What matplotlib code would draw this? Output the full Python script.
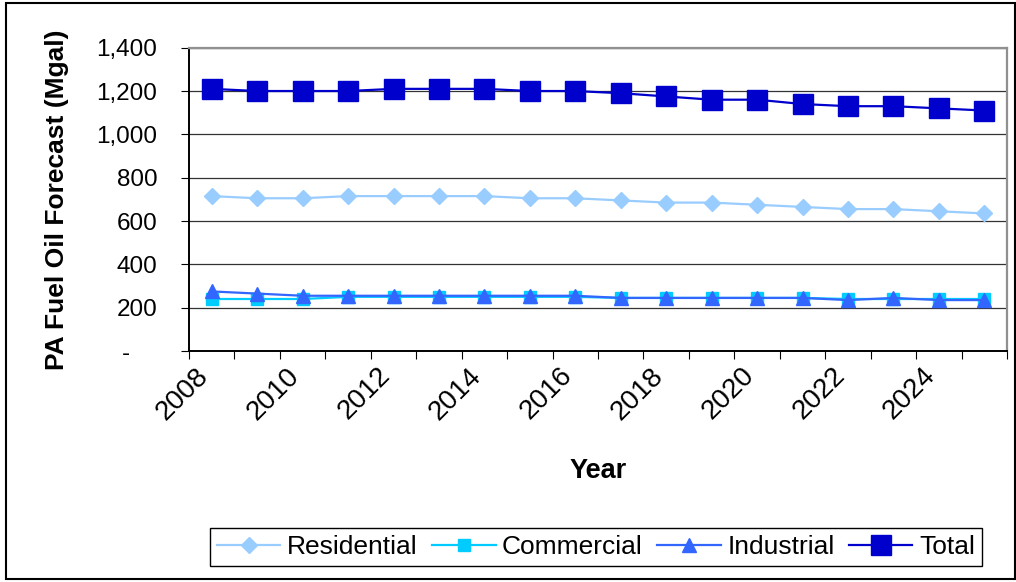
import matplotlib
matplotlib.use("Agg")
import matplotlib.pyplot as plt
import matplotlib.transforms as mtransforms
from matplotlib.patches import Rectangle
from matplotlib.ticker import FixedLocator

plt.rcParams['font.family'] = ['Liberation Sans', 'DejaVu Sans']

# Forecast years and fuel oil use by sector (million gallons)
years = [2008, 2009, 2010, 2011, 2012, 2013, 2014, 2015, 2016,
         2017, 2018, 2019, 2020, 2021, 2022, 2023, 2024, 2025]
residential = [715, 705, 705, 715, 715, 715, 715, 705, 705,
               695, 685, 685, 675, 665, 655, 655, 645, 635]
commercial = [240, 240, 240, 250, 250, 250, 250, 250, 250,
              245, 245, 245, 245, 245, 240, 240, 240, 240]
industrial = [275, 265, 255, 255, 255, 255, 255, 255, 255,
              245, 245, 245, 245, 245, 235, 245, 235, 235]
total = [1210, 1200, 1200, 1200, 1210, 1210, 1210, 1200, 1200,
         1190, 1175, 1160, 1160, 1140, 1130, 1130, 1120, 1110]

y_ticks = [0, 200, 400, 600, 800, 1000, 1200, 1400]
y_tick_labels = ['-\u2007\u2007', '200', '400', '600', '800', '1,000', '1,200', '1,400']

W, H = 1016, 582
fig = plt.figure(figsize=(W / 100, H / 100), dpi=100)
fig.patch.set_facecolor('white')

# plot area in pixel units
left, right, top, bottom = 189, 1007, 47.7, 351
ax = fig.add_axes([left / W, 1 - bottom / H, (right - left) / W, (bottom - top) / H])

x = list(range(len(years)))
ax.plot(x, residential, color='#99CCFF', lw=1.6, marker='D', ms=8,
        mec='#99CCFF', mfc='#99CCFF', label='Residential', zorder=3)
ax.plot(x, commercial, color='#00CCFF', lw=1.6, marker='s', ms=9,
        mec='#00CCFF', mfc='#00CCFF', label='Commercial', zorder=4)
ax.plot(x, industrial, color='#3366FF', lw=1.6, marker='^', ms=10,
        mec='#3366FF', mfc='#3366FF', label='Industrial', zorder=5)
ax.plot(x, total, color='#0000CC', lw=1.6, marker='s', ms=14,
        mec='#0000CC', mfc='#0000CC', label='Total', zorder=6)

ax.set_xlim(-0.5, len(years) - 0.5)
ax.set_ylim(0, 1400)

# y axis
ax.set_yticks(y_ticks)
ax.set_yticklabels(y_tick_labels, fontsize=17.5)
ax.tick_params(axis='y', direction='out', length=5.8, width=0.8, pad=17, color='black')
ax.yaxis.grid(True, color='#333333', lw=0.9)
ax.set_axisbelow(True)

# x axis: tick marks between categories, labels every other year
ax.xaxis.set_major_locator(FixedLocator([i - 0.5 for i in range(len(years) + 1)]))
ax.xaxis.set_major_formatter(plt.NullFormatter())
label_pos = x[::2]
ax.xaxis.set_minor_locator(FixedLocator(label_pos))
ax.set_xticklabels([str(years[i]) for i in label_pos], minor=True, fontsize=20,
                   rotation=45, ha='right', va='center', rotation_mode='anchor')
ax.tick_params(axis='x', which='major', direction='out', length=5.8, width=0.8, color='black')
ax.tick_params(axis='x', which='minor', length=0, pad=15)
shift = mtransforms.ScaledTranslation(-7 / 100, 0, fig.dpi_scale_trans)
for lbl in ax.get_xticklabels(minor=True):
    lbl.set_transform(lbl.get_transform() + shift)

for side in ('left', 'bottom'):
    ax.spines[side].set_color('black')
    ax.spines[side].set_linewidth(1.4)
for side in ('top', 'right'):
    ax.spines[side].set_color('#909090')
    ax.spines[side].set_linewidth(1.6)
    ax.spines[side].set_zorder(2.5)

ax.set_ylabel('PA Fuel Oil Forecast (Mgal)', fontsize=19, fontweight='bold', labelpad=20)
fig.text(598 / W, 1 - 471 / H, 'Year', fontsize=19.5, fontweight='bold',
         ha='center', va='center')

leg = fig.legend(loc='center', bbox_to_anchor=(596 / W, 1 - 547 / H), ncol=4,
                 fontsize=19, frameon=True, fancybox=False, framealpha=1,
                 edgecolor='black', handlelength=2.4, handletextpad=0.25,
                 columnspacing=0.55, borderpad=0.28, borderaxespad=0,
                 markerscale=1.0)
leg.get_frame().set_linewidth(1.0)

# outer chart border
fig.patches.append(Rectangle((6 / W, 1 - 579 / H), (1015 - 6) / W, (579 - 3) / H,
                             transform=fig.transFigure, fill=False,
                             edgecolor='black', linewidth=1.5))

fig.savefig('out.png', dpi=100)
